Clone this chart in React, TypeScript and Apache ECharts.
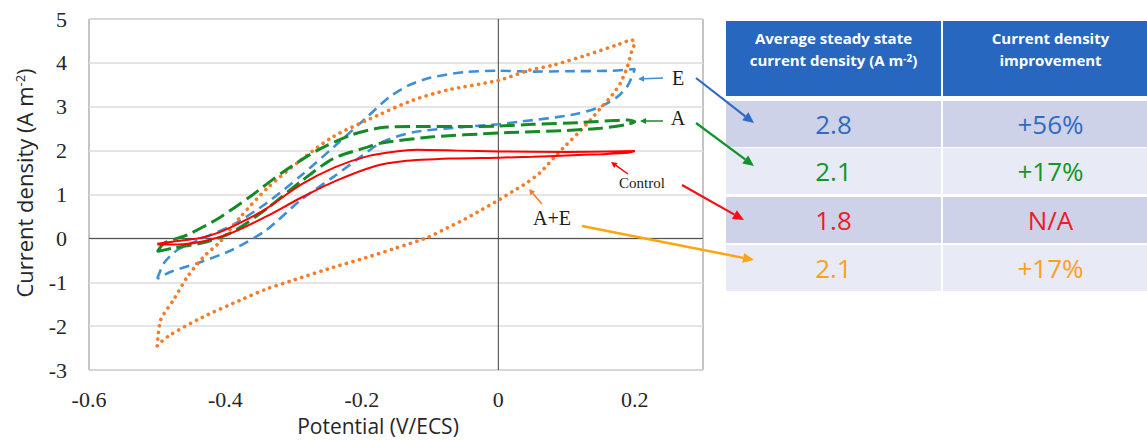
import React, { useEffect, useRef } from 'react';
import * as echarts from 'echarts';

// ---- data ----
const controlCurve: [number, number][] = [
  [-0.5, -0.12], [-0.47, -0.06], [-0.44, 0.0], [-0.41, 0.13], [-0.375, 0.38], [-0.34, 0.68],
  [-0.29, 1.22], [-0.24, 1.62], [-0.19, 1.88], [-0.15, 1.98], [-0.12, 2.02], [-0.06, 2.0],
  [0, 1.98], [0.1, 1.97], [0.2, 1.99],
  [0.19, 1.95], [0.15, 1.92], [0.1, 1.89], [0.05, 1.86], [0, 1.84], [-0.07, 1.82],
  [-0.14, 1.76], [-0.18, 1.65], [-0.24, 1.3], [-0.29, 0.92], [-0.34, 0.5], [-0.39, 0.13],
  [-0.43, -0.06], [-0.47, -0.14], [-0.5, -0.14],
];
const aCurve: [number, number][] = [
  [-0.5, -0.31], [-0.49, -0.11], [-0.456, 0.08], [-0.41, 0.46], [-0.364, 0.95], [-0.315, 1.52],
  [-0.266, 2.0], [-0.217, 2.35], [-0.173, 2.52], [-0.12, 2.55], [-0.05, 2.55], [0, 2.56],
  [0.05, 2.6], [0.12, 2.64], [0.19, 2.7], [0.2, 2.66],
  [0.19, 2.6], [0.15, 2.51], [0.1, 2.46], [0.03, 2.42], [0, 2.4], [-0.1, 2.31], [-0.173, 2.17],
  [-0.192, 2.08], [-0.242, 1.82], [-0.29, 1.29], [-0.339, 0.68], [-0.389, 0.15],
  [-0.427, -0.08], [-0.476, -0.22], [-0.5, -0.3],
];
const eCurve: [number, number][] = [
  [-0.5, -0.92], [-0.49, -0.56], [-0.47, -0.26], [-0.44, -0.04], [-0.39, 0.3], [-0.34, 0.8],
  [-0.29, 1.42], [-0.24, 2.1], [-0.19, 2.8], [-0.16, 3.22], [-0.13, 3.5], [-0.1, 3.66],
  [-0.05, 3.79], [0, 3.82], [0.05, 3.8], [0.1, 3.81], [0.165, 3.82], [0.2, 3.86],
  [0.19, 3.49], [0.174, 3.22], [0.145, 2.97], [0.106, 2.81], [0.032, 2.66], [0, 2.6],
  [-0.05, 2.54], [-0.125, 2.42], [-0.17, 2.2], [-0.2, 1.88], [-0.24, 1.42], [-0.29, 0.87],
  [-0.34, 0.19], [-0.39, -0.26], [-0.44, -0.56], [-0.48, -0.76], [-0.5, -0.92],
];
const aeCurve: [number, number][] = [
  [-0.5, -2.45], [-0.495, -1.86], [-0.476, -1.4], [-0.456, -0.88], [-0.432, -0.42],
  [-0.408, -0.08], [-0.378, 0.49], [-0.339, 1.14], [-0.29, 1.78], [-0.242, 2.32],
  [-0.173, 2.83], [-0.125, 3.15], [-0.075, 3.38], [0, 3.6], [0.045, 3.83], [0.081, 3.95],
  [0.13, 4.18], [0.174, 4.41], [0.196, 4.52], [0.2, 4.46],
  [0.196, 4.29], [0.189, 3.91], [0.179, 3.54], [0.167, 3.27], [0.15, 2.97], [0.135, 2.7],
  [0.117, 2.4], [0.095, 2.06], [0.081, 1.83], [0.062, 1.51], [0.042, 1.27], [0.02, 1.06],
  [0, 0.87], [-0.026, 0.64], [-0.05, 0.43], [-0.075, 0.24], [-0.104, 0.02], [-0.15, -0.22],
  [-0.194, -0.44], [-0.242, -0.66], [-0.3, -0.95], [-0.339, -1.15], [-0.374, -1.38],
  [-0.434, -1.8], [-0.481, -2.2], [-0.5, -2.43],
];
const zeroLineH: [number, number][] = [[-0.6, 0], [0.3, 0]];
const zeroLineV: [number, number][] = [[0, -3], [0, 5]];

const curveLabels = ['E', 'A', 'Control', 'A+E'];
const headerCol1 = ['Average steady state', 'current density (A m{sup|-2})'];
const headerCol2 = ['Current density', 'improvement'];
const densities = ['2.8', '2.1', '1.8', '2.1'];
const improvements = ['+56%', '+17%', 'N/A', '+17%'];

const textColors = ['#2F6BC4', '#11962C', '#EE1C25', '#F8A21C'];
const arrowColors = ['#2F6BC4', '#11932C', '#F0101A', '#FFA510'];

function arrow(x1: number, y1: number, x2: number, y2: number, color: string, w: number, hl: number, hw: number) {
  const ang = Math.atan2(y2 - y1, x2 - x1);
  const bx = x2 - hl * Math.cos(ang);
  const by = y2 - hl * Math.sin(ang);
  const px = (-Math.sin(ang) * hw) / 2;
  const py = (Math.cos(ang) * hw) / 2;
  return [
    { type: 'line', z: 100, silent: true, shape: { x1, y1, x2: bx, y2: by }, style: { stroke: color, lineWidth: w } },
    { type: 'polygon', z: 100, silent: true, shape: { points: [[x2, y2], [bx + px, by + py], [bx - px, by - py]] }, style: { fill: color } },
  ];
}

export default function App() {
  const ref = useRef<HTMLDivElement>(null);
  useEffect(() => {
    if (!ref.current) return;
    const chart = echarts.init(ref.current, undefined, { renderer: 'svg' });
    const serif = '"Liberation Serif", "Times New Roman", serif';
    const sans = '"Open Sans", "Noto Sans", sans-serif';

    const graphics: any[] = [];
    // axis titles
    graphics.push({
      type: 'text', z: 100, x: 24, y: 183, rotation: Math.PI / 2,
      style: {
        text: 'Current density (A m{sup|-2})', fontFamily: sans, fontSize: 22, fill: '#262626',
        align: 'center', verticalAlign: 'middle',
        rich: { sup: { fontFamily: sans, fontSize: 13, fill: '#262626', verticalAlign: 'top', lineHeight: 20 } },
      },
    });
    graphics.push({
      type: 'text', z: 100, x: 378, y: 426,
      style: { text: 'Potential (V/ECS)', fontFamily: sans, fontSize: 21, fill: '#262626', align: 'center', verticalAlign: 'middle' },
    });
    // curve labels
    const labelPos = [[678, 78, 20], [678, 118, 20], [642, 183, 15], [552, 218, 20]];
    curveLabels.forEach((t, i) => {
      graphics.push({
        type: 'text', z: 100, x: labelPos[i][0], y: labelPos[i][1],
        style: { text: t, fontFamily: serif, fontSize: labelPos[i][2], fill: '#1a1a1a', align: 'center', verticalAlign: 'middle' },
      });
    });
    // small arrows
    graphics.push(...arrow(663, 78, 638, 79, '#3D8FD6', 1.5, 6, 6));
    graphics.push(...arrow(663, 121, 640, 121, '#178A28', 1.5, 6, 6));
    graphics.push(...arrow(628, 174, 611, 162, '#FF0000', 1.5, 6, 6));
    graphics.push(...arrow(542, 204, 529, 189, '#F47D2A', 1.5, 6, 6));
    // big arrows
    graphics.push(...arrow(696, 78, 754, 123, arrowColors[0], 2.2, 11, 10));
    graphics.push(...arrow(696, 123, 754, 166, arrowColors[1], 2.2, 11, 10));
    graphics.push(...arrow(682, 185, 744, 220, arrowColors[2], 2.2, 11, 10));
    graphics.push(...arrow(582, 226, 754, 260, arrowColors[3], 2.5, 11, 10));

    // table
    const c1x = 726, c1w = 215, c2x = 943, c2w = 215;
    graphics.push({ type: 'rect', z: 90, shape: { x: c1x, y: 21, width: c1w, height: 75 }, style: { fill: '#2767BF' } });
    graphics.push({ type: 'rect', z: 90, shape: { x: c2x, y: 21, width: c2w, height: 75 }, style: { fill: '#2767BF' } });
    const headerRich = { sup: { fontFamily: sans, fontSize: 10, fontWeight: 'bold', fill: '#ffffff', verticalAlign: 'top', lineHeight: 14 } };
    headerCol1.forEach((t, i) => {
      graphics.push({
        type: 'text', z: 100, x: c1x + c1w / 2, y: 38 + i * 22,
        style: { text: t, fontFamily: sans, fontSize: 15, fontWeight: 'bold', fill: '#ffffff', align: 'center', verticalAlign: 'middle', rich: headerRich },
      });
    });
    headerCol2.forEach((t, i) => {
      graphics.push({
        type: 'text', z: 100, x: c2x + c2w / 2, y: 38 + i * 22,
        style: { text: t, fontFamily: sans, fontSize: 15, fontWeight: 'bold', fill: '#ffffff', align: 'center', verticalAlign: 'middle' },
      });
    });
    const rowTops = [101, 148, 197, 245];
    densities.forEach((d, i) => {
      const fill = i % 2 === 0 ? '#CDD2E9' : '#E8EAF5';
      const h = 46;
      graphics.push({ type: 'rect', z: 90, shape: { x: c1x, y: rowTops[i], width: c1w, height: h }, style: { fill } });
      graphics.push({ type: 'rect', z: 90, shape: { x: c2x, y: rowTops[i], width: c2w, height: h }, style: { fill } });
      graphics.push({
        type: 'text', z: 100, x: c1x + c1w / 2, y: rowTops[i] + h / 2,
        style: { text: d, fontFamily: sans, fontSize: 26, fill: textColors[i], align: 'center', verticalAlign: 'middle' },
      });
      graphics.push({
        type: 'text', z: 100, x: c2x + c2w / 2, y: rowTops[i] + h / 2,
        style: { text: improvements[i], fontFamily: sans, fontSize: 26, fill: textColors[i], align: 'center', verticalAlign: 'middle' },
      });
    });

    const curveBase = { type: 'line', showSymbol: false, symbol: 'none', smooth: 0.25, silent: true, z: 3 };
    const option: any = {
      animation: false,
      backgroundColor: '#ffffff',
      grid: { left: 89, top: 19, width: 614, height: 351, show: true, borderColor: '#8c8c8c', borderWidth: 1, backgroundColor: 'transparent' },
      xAxis: {
        type: 'value', min: -0.6, max: 0.3, interval: 0.2,
        axisLine: { show: false, onZero: false },
        axisTick: { show: false },
        splitLine: { show: false },
        axisLabel: {
          margin: 18, fontFamily: serif, fontSize: 22, color: '#262626',
          formatter: (v: number) => (v > 0.25 ? '' : String(Number(v.toFixed(1)))),
        },
      },
      yAxis: {
        type: 'value', min: -3, max: 5, interval: 1,
        axisLine: { show: false, onZero: false },
        axisTick: { show: false },
        splitLine: { show: true, lineStyle: { color: '#dddddd', width: 1.5 } },
        axisLabel: { margin: 22, fontFamily: serif, fontSize: 22, color: '#262626' },
      },
      series: [
        { type: 'line', data: zeroLineH, showSymbol: false, symbol: 'none', silent: true, z: 2, lineStyle: { color: '#404040', width: 1 } },
        { type: 'line', data: zeroLineV, showSymbol: false, symbol: 'none', silent: true, z: 2, lineStyle: { color: '#404040', width: 1 } },
        { ...curveBase, name: 'E', data: eCurve, lineStyle: { color: '#3D8FD6', width: 2.6, type: [10, 6] } },
        { ...curveBase, name: 'A+E', data: aeCurve, lineStyle: { color: '#F47D2A', width: 3.6, type: [0.1, 6.6], cap: 'round' } },
        { ...curveBase, name: 'A', data: aCurve, lineStyle: { color: '#178A28', width: 3, type: [15, 6] } },
        { ...curveBase, name: 'Control', data: controlCurve, lineStyle: { color: '#FF0000', width: 2 } },
      ],
      graphic: graphics,
    };
    chart.setOption(option);
    return () => chart.dispose();
  }, []);
  return <div ref={ref} style={{ position: 'fixed', left: 0, top: 0, width: 1147, height: 441, overflow: 'hidden' }} />;
}
